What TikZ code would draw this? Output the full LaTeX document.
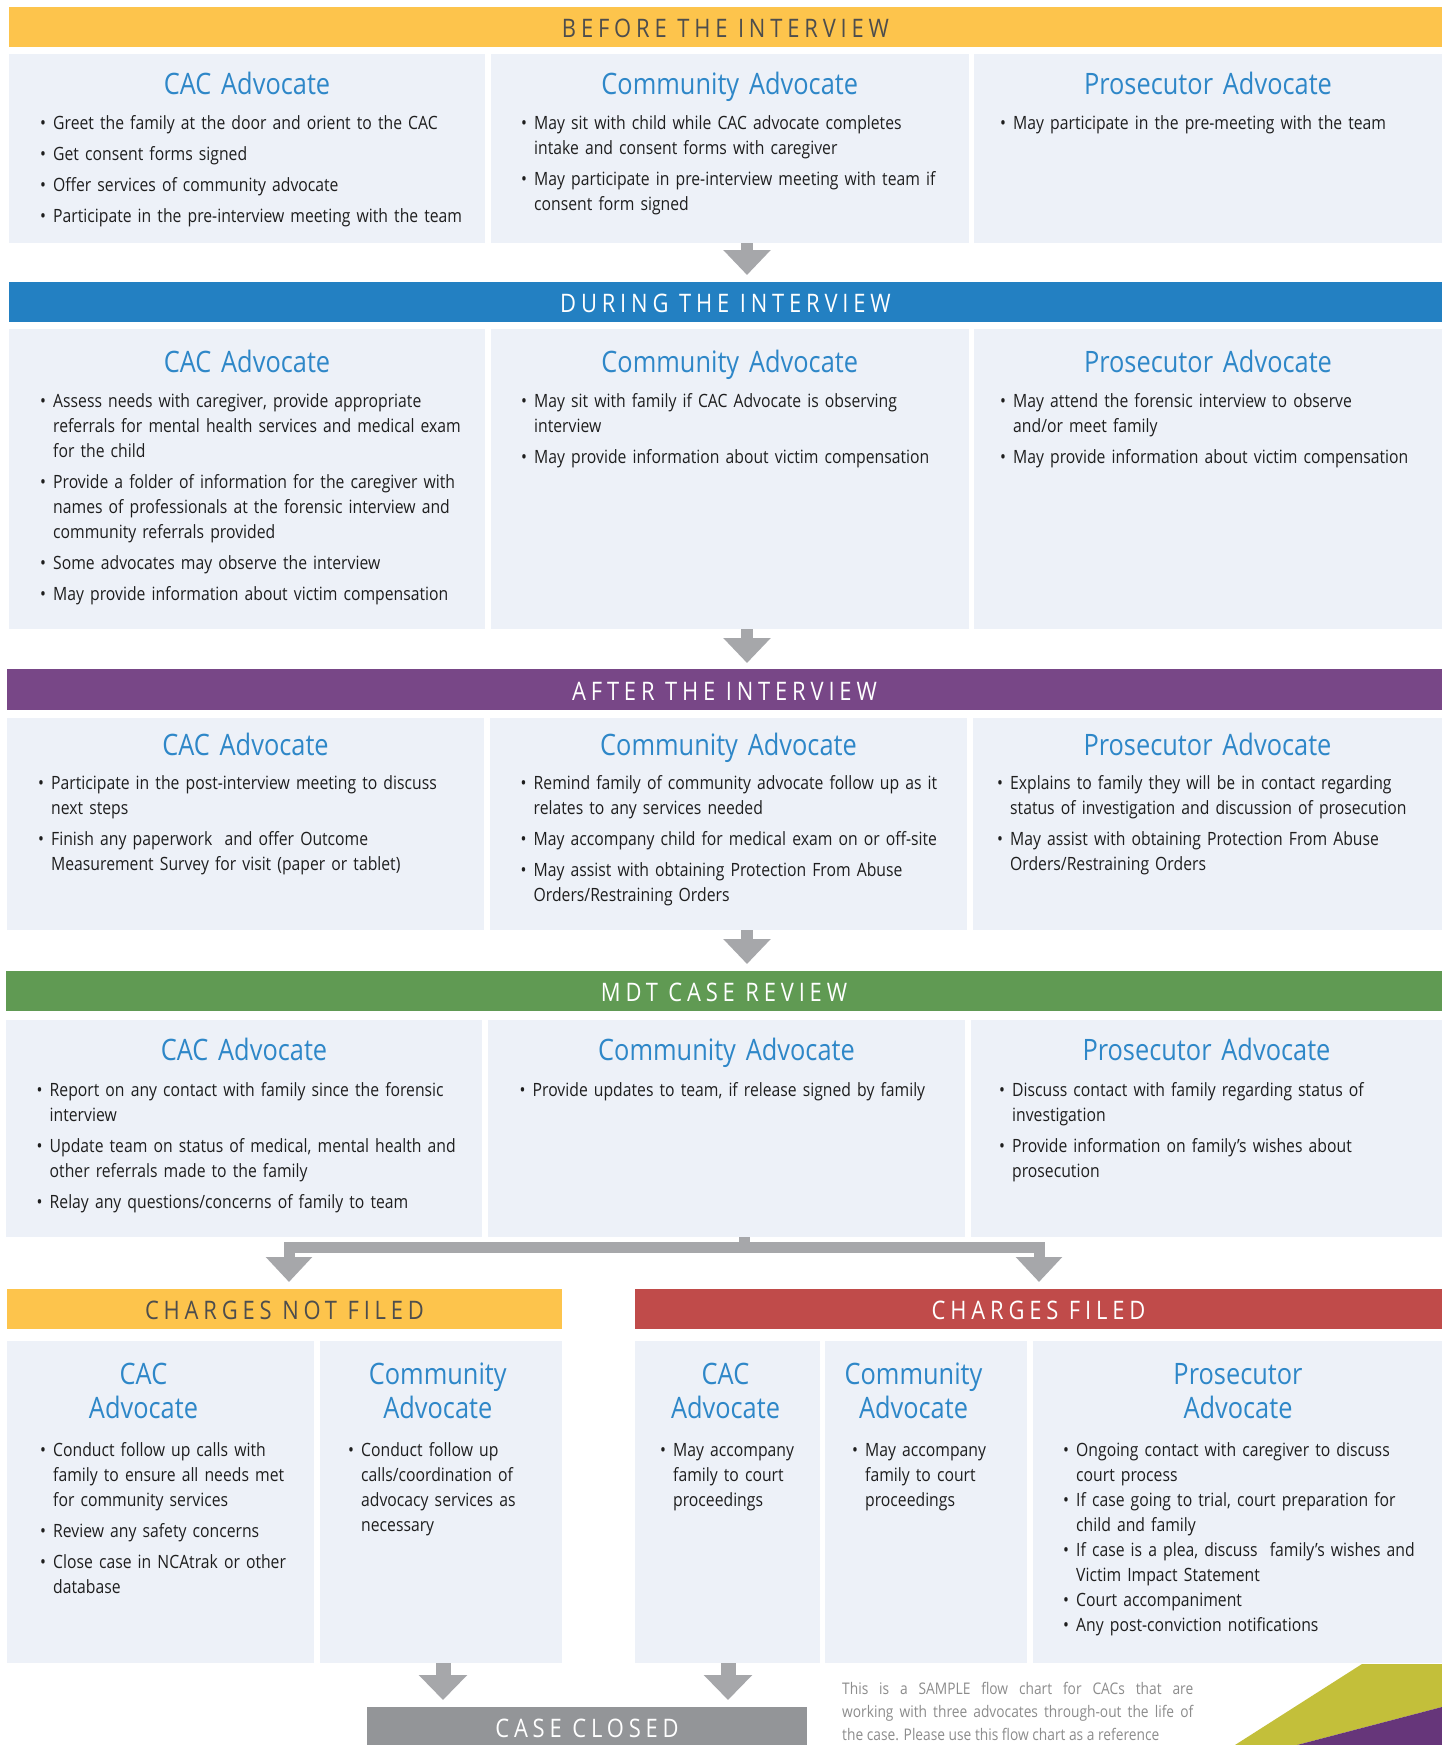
\documentclass[tikz,border=0pt]{standalone}
\usepackage{fontspec}
\setmainfont{Open Sans}[FakeStretch=0.86]
\usetikzlibrary{arrows.meta}
\definecolor{hyellow}{HTML}{FDC44C}
\definecolor{hblue}{HTML}{2380C2}
\definecolor{hpurple}{HTML}{784787}
\definecolor{hgreen}{HTML}{609A53}
\definecolor{hred}{HTML}{C04B4A}
\definecolor{hgray}{HTML}{939598}
\definecolor{boxfill}{HTML}{EDF1F8}
\definecolor{titleblue}{HTML}{2E87C8}
\definecolor{bodytext}{HTML}{1E1E1E}
\definecolor{arrowgray}{HTML}{A6A7AA}
\definecolor{htextdark}{HTML}{4D4D4D}
\definecolor{notegray}{HTML}{8C8C8C}
\definecolor{decoolive}{HTML}{C3BF3A}
\definecolor{decopurple}{HTML}{66367A}
\newcommand{\itm}[1]{\noindent\hangindent=13pt\hangafter=1\makebox[13pt][l]{\textbullet}#1\par}
\newcommand{\gapa}{\setlength{\parskip}{6pt}}
\newcommand{\gapz}{\setlength{\parskip}{0pt}}
\newcommand{\mkpanel}[5]{\node[abox, minimum width={#4pt-#2pt}, minimum height={#5pt-#3pt}] (#1) at (#2,#3) {};}
\tikzset{
  hdr/.style={anchor=north west, inner sep=0pt, outer sep=0pt, text height=21pt, text depth=0pt,
    font=\fontsize{25.5}{30}\selectfont\addfontfeature{LetterSpace=19}},
  abox/.style={anchor=north west, fill=boxfill, inner sep=0pt, outer sep=0pt},
  ttl/.style={anchor=base, text width=300pt, align=center, inner sep=0pt,
    text=titleblue, font=\fontsize{29.5}{34}\selectfont},
  blist/.style={anchor=base west, text width=440pt, align=left, inner sep=0pt,
    text=bodytext, font=\fontsize{18.3}{25}\selectfont},
  flow/.style={draw=arrowgray, line width=12pt, -{Triangle[width=46pt,length=25pt]}},
  flowb/.style={draw=arrowgray, line width=11pt, line join=miter, -{Triangle[width=45pt,length=25pt]}},
  flowc/.style={draw=arrowgray, line width=15pt, -{Triangle[width=47pt,length=25pt]}},
}
\begin{document}
\begin{tikzpicture}[x=1pt,y=-1pt]
\useasboundingbox (0,0) rectangle (1442,1745);
\fill[white] (0,0) rectangle (1442,1745);

% ---------- BEFORE THE INTERVIEW ----------
\node[hdr, fill=hyellow, text=htextdark, minimum width=1433pt, minimum height=40pt] (h1) at (9,7) {BEFORE THE INTERVIEW};
\mkpanel{b11}{9}{54}{485}{243}
\mkpanel{b12}{491}{54}{968.5}{243}
\mkpanel{b13}{974}{54}{1442}{243}
\node[ttl] (t11) at (247,95) {CAC Advocate};
\node[ttl] (t12) at (729.75,95) {Community Advocate};
\node[ttl] (t13) at (1208,95) {Prosecutor Advocate};
\node[blist] (l11) at (40,129.5) {\gapa
\itm{Greet the family at the door and orient to the CAC}
\itm{Get consent forms signed}
\itm{Offer services of community advocate}
\itm{Participate in the pre-interview meeting with the team}};
\node[blist] (l12) at (521,129.5) {\gapa
\itm{May sit with child while CAC advocate completes\newline intake and consent forms with caregiver}
\itm{May participate in pre-interview meeting with team if\newline consent form signed}};
\node[blist] (l13) at (1000,129.5) {\gapa
\itm{May participate in the pre-meeting with the team}};

% ---------- DURING THE INTERVIEW ----------
\node[hdr, fill=hblue, text=white, minimum width=1433pt, minimum height=40pt] (h2) at (9,282) {DURING THE INTERVIEW};
\mkpanel{b21}{9}{329}{485}{629}
\mkpanel{b22}{491}{329}{968.5}{629}
\mkpanel{b23}{974}{329}{1442}{629}
\node[ttl] (t21) at (247,372.5) {CAC Advocate};
\node[ttl] (t22) at (729.75,372.5) {Community Advocate};
\node[ttl] (t23) at (1208,372.5) {Prosecutor Advocate};
\node[blist] (l21) at (40,407) {\gapa
\itm{Assess needs with caregiver, provide appropriate\newline referrals for mental health services and medical exam\newline for the child}
\itm{Provide a folder of information for the caregiver with\newline names of professionals at the forensic interview and\newline community referrals provided}
\itm{Some advocates may observe the interview}
\itm{May provide information about victim compensation}};
\node[blist] (l22) at (521,407) {\gapa
\itm{May sit with family if CAC Advocate is observing\newline interview}
\itm{May provide information about victim compensation}};
\node[blist] (l23) at (1000,407) {\gapa
\itm{May attend the forensic interview to observe\newline and/or meet family}
\itm{May provide information about victim compensation}};

% ---------- AFTER THE INTERVIEW ----------
\node[hdr, fill=hpurple, text=white, minimum width=1435pt, minimum height=41pt] (h3) at (7,669) {AFTER THE INTERVIEW};
\mkpanel{b31}{7}{718}{484}{930}
\mkpanel{b32}{490}{718}{967}{930}
\mkpanel{b33}{973}{718}{1442}{930}
\node[ttl] (t31) at (245.5,755) {CAC Advocate};
\node[ttl] (t32) at (728.5,755) {Community Advocate};
\node[ttl] (t33) at (1207.5,755) {Prosecutor Advocate};
\node[blist] (l31) at (38,789) {\gapa
\itm{Participate in the post-interview meeting to discuss\newline next steps}
\itm{Finish any paperwork\ \ and offer Outcome\newline Measurement Survey for visit (paper or tablet)}};
\node[blist] (l32) at (520.5,789) {\gapa
\itm{Remind family of community advocate follow up as it\newline relates to any services needed}
\itm{May accompany child for medical exam on or off-site}
\itm{May assist with obtaining Protection From Abuse\newline Orders/Restraining Orders}};
\node[blist] (l33) at (997,789) {\gapa
\itm{Explains to family they will be in contact regarding\newline status of investigation and discussion of prosecution}
\itm{May assist with obtaining Protection From Abuse\newline Orders/Restraining Orders}};

% ---------- MDT CASE REVIEW ----------
\node[hdr, fill=hgreen, text=white, minimum width=1436pt, minimum height=40pt] (h4) at (6,971) {MDT CASE REVIEW};
\mkpanel{b41}{6}{1020}{482}{1237}
\mkpanel{b42}{488}{1020}{965}{1237}
\mkpanel{b43}{971}{1020}{1442}{1237}
\node[ttl] (t41) at (244,1060) {CAC Advocate};
\node[ttl] (t42) at (726.5,1060) {Community Advocate};
\node[ttl] (t43) at (1206.5,1060) {Prosecutor Advocate};
\node[blist] (l41) at (36.5,1096) {\gapa
\itm{Report on any contact with family since the forensic\newline interview}
\itm{Update team on status of medical, mental health and\newline other referrals made to the family}
\itm{Relay any questions/concerns of family to team}};
\node[blist] (l42) at (519.5,1096) {\gapa
\itm{Provide updates to team, if release signed by family}};
\node[blist] (l43) at (999,1096) {\gapa
\itm{Discuss contact with family regarding status of\newline investigation}
\itm{Provide information on family’s wishes about\newline prosecution}};

% ---------- CHARGES NOT FILED / FILED ----------
\node[hdr, fill=hyellow, text=htextdark, minimum width=555pt, minimum height=40pt] (h5) at (7,1289) {CHARGES NOT FILED};
\node[hdr, fill=hred, text=white, minimum width=807pt, minimum height=40pt] (h6) at (635,1289) {CHARGES FILED};
\mkpanel{b51}{7}{1341}{313.6}{1663}
\mkpanel{b52}{320}{1341}{562}{1663}
\mkpanel{b53}{635}{1341}{819.7}{1663}
\mkpanel{b54}{825}{1341}{1026.8}{1663}
\mkpanel{b55}{1032.6}{1341}{1442}{1663}
\node[ttl] (t51) at (143.5,1384) {CAC\\Advocate};
\node[ttl] (t52) at (437.8,1384) {Community\\Advocate};
\node[ttl] (t53) at (725.5,1384) {CAC\\Advocate};
\node[ttl] (t54) at (913.5,1384) {Community\\Advocate};
\node[ttl] (t55) at (1238,1384) {Prosecutor\\Advocate};
\node[blist] (l51) at (40,1456) {\gapa
\itm{Conduct follow up calls with\newline family to ensure all needs met\newline for community services}
\itm{Review any safety concerns}
\itm{Close case in NCAtrak or other\newline database}};
\node[blist] (l52) at (348,1456) {\gapa
\itm{Conduct follow up\newline calls/coordination of\newline advocacy services as\newline necessary}};
\node[blist] (l53) at (660,1456) {\gapa
\itm{May accompany\newline family to court\newline proceedings}};
\node[blist] (l54) at (852,1456) {\gapa
\itm{May accompany\newline family to court\newline proceedings}};
\node[blist] (l55) at (1063,1456) {\gapz
\itm{Ongoing contact with caregiver to discuss\newline court process}
\itm{If case going to trial, court preparation for\newline child and family}
\itm{If case is a plea, discuss\ \ family’s wishes and\newline Victim Impact Statement}
\itm{Court accompaniment}
\itm{Any post-conviction notifications}};

% ---------- CASE CLOSED ----------
\node[hdr, fill=hgray, text=white, minimum width=440pt, minimum height=43pt, text height=18pt] (h7) at (367,1707) {CASE CLOSED};

% footnote
\node[anchor=base west, text width=351pt, align=justify, inner sep=0pt, text=notegray,
  font=\fontsize{16}{23}\selectfont] (note) at (842,1694)
  {\setlength{\parfillskip}{0pt}This is a SAMPLE flow chart for CACs that are\linebreak working with three advocates through-out the life of\linebreak the case. Please use this flow chart as a reference};

% decoration
\fill[decoolive] (1235,1745) -- (1362,1664) -- (1442,1664) -- (1442,1707) -- (1297,1745) -- cycle;
\fill[decopurple] (1297,1745) -- (1442,1707) -- (1442,1745) -- cycle;

% ---------- connectors ----------
\coordinate (a1s) at (747,243);  \coordinate (a1e) at (747,275);
\coordinate (a2s) at (747,629);  \coordinate (a2e) at (747,663);
\coordinate (a3s) at (747,930);  \coordinate (a3e) at (747,964);
\draw[flow] (a1s) -- (a1e);
\draw[flow] (a2s) -- (a2e);
\draw[flow] (a3s) -- (a3e);
\coordinate (brs) at (744.5,1237);
\coordinate (brm) at (744.5,1247);
\coordinate (brl) at (289,1282);
\coordinate (brr) at (1039,1282);
\draw[draw=arrowgray, line width=11pt] (brs) -- (brm);
\draw[flowb] (brm) -| (brl);
\draw[flowb] (brm) -| (brr);
\coordinate (c1s) at (443,1663); \coordinate (c1e) at (443,1700);
\coordinate (c2s) at (728,1663); \coordinate (c2e) at (728,1700);
\draw[flowc] (c1s) -- (c1e);
\draw[flowc] (c2s) -- (c2e);
\end{tikzpicture}
\end{document}
